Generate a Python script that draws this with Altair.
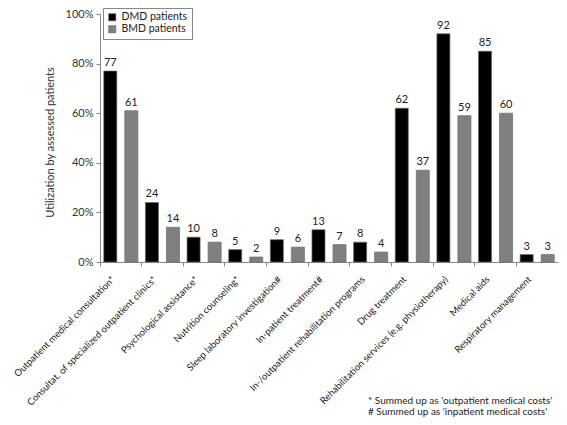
import altair as alt
import pandas as pd

categories = [
    "Outpatient medical consultation*",
    "Consultat. of specialized outpatient clinics*",
    "Psychological assistance*",
    "Nutrition counseling*",
    "Sleep laboratory investigation#",
    "In-patient treatment#",
    "In-/outpatient rehabilitation programs",
    "Drug treatment",
    "Rehabilitation services (e.g. physiotherapy)",
    "Medical aids",
    "Respiratory management",
]
dmd = [77, 24, 10, 5, 9, 13, 8, 62, 92, 85, 3]
bmd = [61, 14, 8, 2, 6, 7, 4, 37, 59, 60, 3]
groups = ["DMD patients", "BMD patients"]
colors = ["#000000", "#808080"]
y_ticks = [0, 0.2, 0.4, 0.6, 0.8, 1.0]
footnote = "* Summed up as 'outpatient medical costs'\n# Summed up as 'inpatient medical costs'"

rows = []
for c, a, b in zip(categories, dmd, bmd):
    rows.append({"cat": c, "group": groups[0], "val": a, "frac": a / 100})
    rows.append({"cat": c, "group": groups[1], "val": b, "frac": b / 100})
df = pd.DataFrame(rows)

FONT = "Lato"

x_enc = alt.X(
    "cat:N",
    sort=categories,
    scale=alt.Scale(paddingInner=0, paddingOuter=0),
    axis=alt.Axis(
        title=None,
        labelAngle=-45,
        labelAlign="right",
        labelBaseline="top",
        labelOffset=-11,
        labelPadding=8,
        labelLimit=300,
        labelFontSize=9.5,
        labelColor="#222222",
        labelFont=FONT,
        bandPosition=0,
        tickSize=4,
        tickColor="#888888",
        domainColor="#888888",
    ),
)
xo_enc = alt.XOffset(
    "group:N", sort=groups, scale=alt.Scale(paddingInner=0.38, paddingOuter=0.18)
)
y_enc = alt.Y(
    "frac:Q",
    scale=alt.Scale(domain=[0, 1]),
    axis=alt.Axis(
        values=y_ticks,
        format=".0%",
        grid=False,
        tickSize=4,
        tickColor="#888888",
        domainColor="#888888",
        labelFontSize=11,
        labelColor="#333333",
        labelFont=FONT,
        labelPadding=3,
        title="Utilization by assessed patients",
        titleFont=FONT,
        titleFontSize=11,
        titleFontWeight="normal",
        titleColor="#333333",
        titleX=-50,
        titleY=128,
        titleAngle=-90,
        titleAlign="center",
        titleBaseline="middle",
    ),
)

base = alt.Chart(df).encode(x=x_enc, xOffset=xo_enc, y=y_enc)

bars = base.mark_bar(stroke="#6a6a6a", strokeWidth=0.7).encode(
    color=alt.Color(
        "group:N",
        sort=groups,
        scale=alt.Scale(domain=groups, range=colors),
        legend=alt.Legend(
            title=None,
            orient="none",
            legendX=3,
            legendY=-6,
            symbolType="square",
            symbolSize=50,
            symbolStrokeColor="#555555",
            symbolStrokeWidth=0.6,
            labelFontSize=10.5,
            labelFont=FONT,
            labelColor="#222222",
            strokeColor="#888888",
            fillColor="white",
            padding=4,
            rowPadding=1,
        ),
    )
)

labels = base.mark_text(
    baseline="bottom", dy=-3, fontSize=11, font=FONT, color="#222222"
).encode(text="val:Q")

notes = alt.Chart(pd.DataFrame({"t": [footnote]})).mark_text(
    align="left",
    baseline="middle",
    lineBreak="\n",
    lineHeight=11,
    fontSize=10,
    font=FONT,
    color="#222222",
).encode(text="t:N", x=alt.value(268), y=alt.value(387))

chart = (
    alt.layer(bars, labels, notes)
    .properties(
        width=458,
        height=248,
        autosize=alt.AutoSizeParams(type="none"),
        padding={"left": 92, "top": 6, "right": 1, "bottom": 155},
    )
    .configure_view(stroke=None)
)

chart.save("out.html", embed_options={"renderer": "svg", "actions": False})
